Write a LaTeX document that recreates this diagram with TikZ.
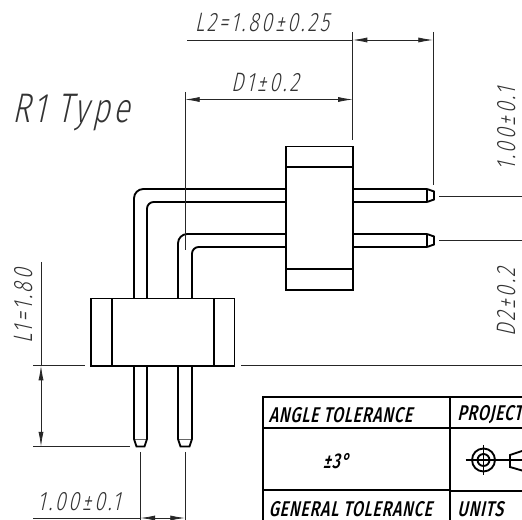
\documentclass[tikz,border=0pt]{standalone}
\usepackage{fontspec}
\usetikzlibrary{arrows.meta}
\newfontfamily\dimfont{Fira Sans Light}[FakeSlant=0.22,FakeStretch=0.74,LetterSpace=10]
\newfontfamily\typefont{Fira Sans Light}[FakeSlant=0.22,FakeStretch=0.74,LetterSpace=8]
\newfontfamily\tablefont{Fira Sans Medium}[FakeSlant=0.22,FakeStretch=0.75,LetterSpace=3.5]
\tikzset{
    partline/.style={line width=1.4pt,black},
    dimline/.style={line width=0.6pt,black!85},
    tableline/.style={line width=1.5pt,black},
    dimarrow/.style={{Latex[length=11pt,width=3.8pt]}-{Latex[length=11pt,width=3.8pt]}},
    dimtext/.style={font=\dimfont\fontsize{20}{20}\selectfont,text=black!80,inner sep=0pt},
    typetext/.style={font=\typefont\fontsize{31}{31}\selectfont,text=black!80,inner sep=0pt},
    tabletext/.style={font=\tablefont\fontsize{16}{16}\selectfont,inner sep=0pt,anchor=west},
}
\begin{document}
\begin{tikzpicture}[x=0.75pt,y=-0.75pt]
    \useasboundingbox (0,0) rectangle (522,520);
    \begin{scope}
        \clip (0,0) rectangle (522,520);
        % pins
        \draw [partline,rounded corners=7pt] (134,298.5) to (134,189) to (286,189);
        \draw [partline,rounded corners=5pt] (147,298.5) to (147,202) to (286,202);
        \draw [partline,rounded corners=7pt] (178,298.5) to (178,234) to (286,234);
        \draw [partline,rounded corners=5pt] (192,298.5) to (192,247) to (286,247);
        \foreach \y/\z in {189/202,234/247}{
            \draw [partline] (352.7,\y) to (427,\y) (352.7,\z) to (427,\z);
            \draw [partline] (427,\y) to (427,\z);
            \draw [partline] (427,\y) to (434,\y+2.5) to (434,\z-2.5) to (427,\z);
        }
        \foreach \a/\b in {134/147,178/192}{
            \draw [partline] (\a,365.7) to (\a,439) (\b,365.7) to (\b,439);
            \draw [line width=0.6pt,black!60] (\a,439) to (\b,439);
            \draw [partline] (\a,439) to (\a+2.5,446.5) to (\b-2.5,446.5) to (\b,439);
        }
        % housings
        \draw [partline] (286,146.5) rectangle (352.7,290);
        \draw [partline] (286,167) to (352.7,167) (286,269) to (352.7,269);
        \draw [partline] (91,298.5) rectangle (234.5,365.7);
        \draw [partline] (111.7,298.5) to (111.7,365.7) (214,298.5) to (214,365.7);
        % dimensions
        \draw [dimline] (187,40) to (352.7,40);
        \draw [dimline,dimarrow] (352.7,40) to (433,40);
        \draw [dimline] (352.7,32) to (352.7,140);
        \draw [dimline] (433,32) to (433,185);
        \draw [dimline,dimarrow] (185,99.5) to (352.7,99.5);
        \draw [dimline] (185,92) to (185,250);
        \draw [dimline] (439,196) to (522,196) (439,240) to (522,240);
        \draw [dimline] (33,365.7) to (85,365.7) (241,365.7) to (522,365.7);
        \draw [dimline] (41,262) to (41,365.7);
        \draw [dimline,dimarrow] (41,365.7) to (41,446.5);
        \draw [dimline] (33,446.5) to (130,446.5);
        \draw [dimline] (140.5,452) to (140.5,520) (185,452) to (185,520);
        \draw [dimline] (33,518) to (140.5,518);
        \draw [dimline,dimarrow] (140.5,518) to (185,518);
        % labels
        \node [dimtext] (l2label) at (262,23) {L2=1.80±0.25};
        \node [dimtext] (d1label) at (265,83) {D1±0.2};
        \node [typetext] (typelabel) at (71,112.5) {R1 Type};
        \node [dimtext,rotate=90] (l1label) at (24,306) {L1=1.80};
        \node [dimtext] (pitchlabel) at (79,502) {1.00±0.1};
        \node [dimtext,rotate=90] (pitchlabelb) at (507,129) {1.00±0.1};
        \node [dimtext,rotate=90] (d2label) at (507,302) {D2±0.2};
        % table
        \draw [tableline] (263,520) to (263,397) to (522,397);
        \draw [tableline] (449.7,397) to (449.7,520);
        \draw [tableline] (263,428) to (522,428);
        \draw [tableline] (263,490) to (449.7,490) (449.7,491) to (522,491);
        \node [tabletext] (angletitle) at (268.5,415) {ANGLE TOLERANCE};
        \node [tabletext] (projtitle) at (457,415) {PROJECTION};
        \node [tabletext,anchor=center] (anglevalue) at (336,461) {±3°};
        \node [tabletext] (generaltitle) at (268.5,509) {GENERAL TOLERANCE};
        \node [tabletext] (unitstitle) at (457,509) {UNITS};
        % projection symbol
        \draw [partline] (483.5,460) circle (11.5);
        \draw [partline] (483.5,460) circle (6);
        \draw [line width=1.1pt] (465.5,460) to (522,460) (483.5,445) to (483.5,475);
        \draw [partline] (522,451) to (510,455) to (510,467) to (522,470.5);
    \end{scope}
\end{tikzpicture}
\end{document}
